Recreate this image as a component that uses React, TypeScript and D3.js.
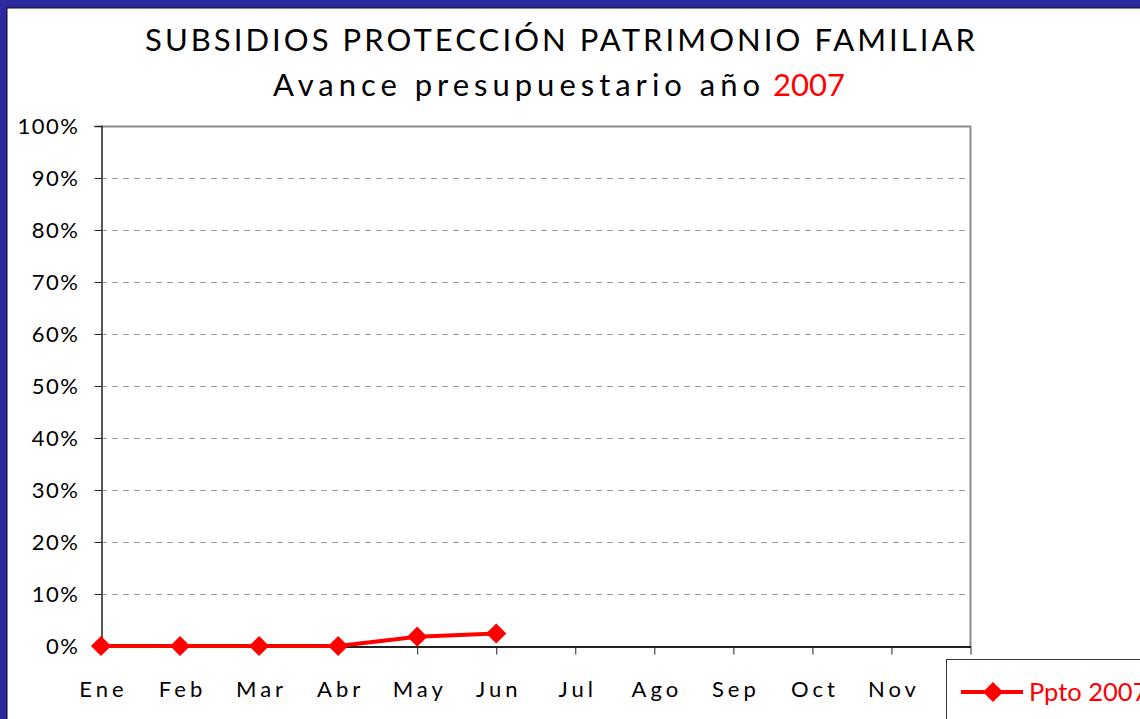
import React, { useEffect, useRef } from 'react';
import * as d3 from 'd3';

const months = ['Ene', 'Feb', 'Mar', 'Abr', 'May', 'Jun', 'Jul', 'Ago', 'Sep', 'Oct', 'Nov', 'Dic'];
const pptoMonths = ['Ene', 'Feb', 'Mar', 'Abr', 'May', 'Jun'];
const pptoValues = [0, 0, 0, 0, 0.018, 0.024];
const yTicks = [0, 0.1, 0.2, 0.3, 0.4, 0.5, 0.6, 0.7, 0.8, 0.9, 1];

const App: React.FC = () => {
  const ref = useRef<SVGSVGElement | null>(null);

  useEffect(() => {
    const width = 1140;
    const height = 719;
    const margin = { top: 126, right: 170, bottom: 73, left: 101 };
    const font = 'Lato, "DejaVu Sans", sans-serif';

    const svg = d3.select(ref.current)
      .attr('width', width)
      .attr('height', height)
      .style('display', 'block')
      .style('position', 'absolute')
      .style('left', 0)
      .style('top', 0);
    svg.selectAll('*').remove();

    // blue frame
    svg.append('rect').attr('width', width).attr('height', height).attr('fill', '#2a2a9c');
    svg.append('rect').attr('x', 7).attr('y', 8).attr('width', width).attr('height', height)
      .attr('fill', '#ffffff').attr('stroke', '#111').attr('stroke-width', 1);

    const x = d3.scalePoint<string>()
      .domain(months)
      .range([margin.left, width - margin.right + 0.5]);
    const y = d3.scaleLinear()
      .domain([0, 1])
      .range([height - margin.bottom, margin.top]);

    const x0 = margin.left, x1 = width - margin.right + 0.5;
    const y0 = y(0), y1 = y(1);

    // grid
    svg.append('g').selectAll('line')
      .data(yTicks.filter(t => t > 0 && t < 1))
      .join('line')
      .attr('x1', x0).attr('x2', x1)
      .attr('y1', d => Math.round(y(d)) + 0.5).attr('y2', d => Math.round(y(d)) + 0.5)
      .attr('stroke', '#a0a0a0').attr('stroke-dasharray', '6,5');

    // plot frame: top and right gray
    svg.append('path')
      .attr('d', `M${x0},${y1 + 0.5}H${x1}V${y0}`)
      .attr('fill', 'none').attr('stroke', '#8c8c8c').attr('stroke-width', 2);

    // y axis
    const yAxis = svg.append('g')
      .attr('transform', `translate(${x0 + 0.5},0)`)
      .call(d3.axisLeft(y).tickValues(yTicks).tickSize(7).tickPadding(15).tickFormat(d3.format('.0%')));
    yAxis.select('.domain').attr('stroke', '#222').attr('stroke-width', 1.5);
    yAxis.selectAll('.tick line').attr('stroke', '#222');
    yAxis.selectAll('text')
      .attr('font-family', font).attr('font-size', 22).attr('fill', '#000')
      .attr('letter-spacing', 1.5)
      .attr('dy', '0.32em');

    // x axis
    const xAxis = svg.append('g')
      .attr('transform', `translate(0,${y0 + 0.5})`)
      .call(d3.axisBottom(x).tickSize(8).tickSizeOuter(0).tickPadding(27));
    xAxis.select('.domain').attr('stroke', '#222').attr('stroke-width', 2);
    xAxis.selectAll('.tick line').attr('stroke', '#222');
    xAxis.selectAll('text')
      .attr('font-family', font).attr('font-size', 22).attr('fill', '#000')
      .attr('letter-spacing', 4)
      .attr('dx', 2);

    // series
    const line = d3.line<number>()
      .x((_, i) => x(pptoMonths[i])!)
      .y(d => y(d));
    svg.append('path')
      .datum(pptoValues)
      .attr('d', line)
      .attr('fill', 'none').attr('stroke', '#ff0000').attr('stroke-width', 4);
    const diamond = d3.symbol().type(d3.symbolDiamond2).size(260);
    svg.append('g').selectAll('path')
      .data(pptoValues)
      .join('path')
      .attr('transform', (d, i) => `translate(${x(pptoMonths[i])},${y(d)})`)
      .attr('d', diamond)
      .attr('fill', '#ff0000');

    // titles
    svg.append('text')
      .attr('x', 145).attr('y', 51)
      .attr('font-family', font).attr('font-size', 31)
      .attr('textLength', 830).attr('lengthAdjust', 'spacing')
      .attr('fill', '#000')
      .text('SUBSIDIOS PROTECCIÓN PATRIMONIO FAMILIAR');
    svg.append('text')
      .attr('x', 273).attr('y', 96)
      .attr('font-family', font).attr('font-size', 31)
      .attr('textLength', 487).attr('lengthAdjust', 'spacing')
      .attr('fill', '#000')
      .text('Avance presupuestario año');
    svg.append('text')
      .attr('x', 773).attr('y', 96)
      .attr('font-family', font).attr('font-size', 31)
      .attr('textLength', 72).attr('lengthAdjust', 'spacingAndGlyphs')
      .attr('fill', '#ff0000')
      .text('2007');

    // legend (runs past the right edge, as in the original slide)
    const lg = svg.append('g').attr('transform', 'translate(946,659)');
    lg.append('rect').attr('x', 0.5).attr('y', 0.5).attr('width', 240).attr('height', 80)
      .attr('fill', '#fff').attr('stroke', '#333').attr('stroke-width', 1);
    lg.append('line').attr('x1', 15).attr('x2', 77).attr('y1', 33).attr('y2', 33)
      .attr('stroke', '#ff0000').attr('stroke-width', 4);
    lg.append('path').attr('transform', 'translate(47,33)').attr('d', diamond).attr('fill', '#ff0000');
    lg.append('text').attr('x', 83).attr('y', 42)
      .attr('font-family', font).attr('font-size', 25.5).attr('fill', '#ff0000')
      .text('Ppto 2007');
  }, []);

  return <svg ref={ref}></svg>;
};

export default App;
